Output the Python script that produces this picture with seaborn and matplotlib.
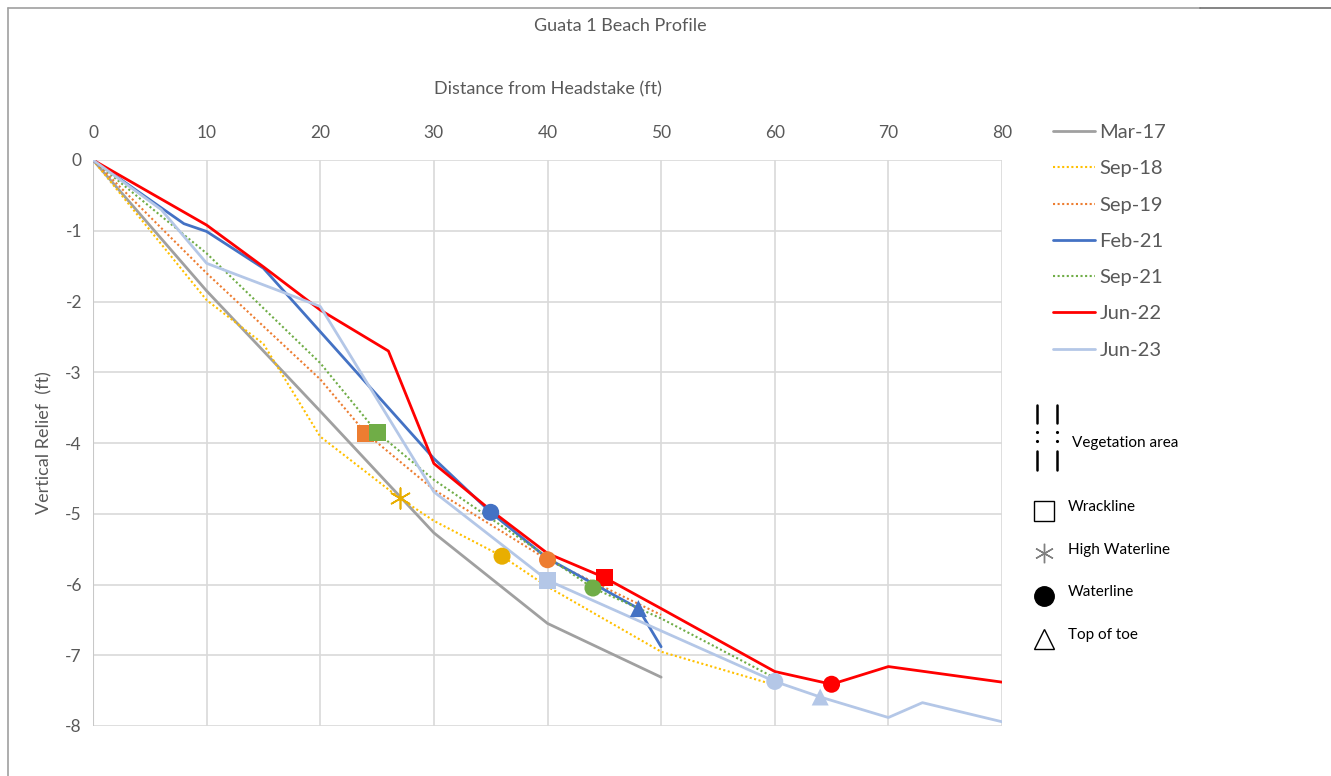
import numpy as np
import pandas as pd
import matplotlib
matplotlib.use('Agg')
import matplotlib.pyplot as plt
from matplotlib.lines import Line2D
import seaborn as sns

# ── 1. Profile data (distance ft, relief ft) ─────────────────
mar17_x = [0, 10, 20, 30, 40, 50]
mar17_y = [0, -1.85, -3.55, -5.27, -6.55, -7.31]

sep18_x = [0, 10, 15, 20, 27, 30, 36, 40, 50, 60]
sep18_y = [0, -1.98, -2.6, -3.91, -4.78, -5.1, -5.6, -6.03, -6.95, -7.42]

sep19_x = [0, 10, 20, 24, 30, 40, 50]
sep19_y = [0, -1.6, -3.1, -3.86, -4.66, -5.65, -6.43]

feb21_x = [0, 8, 10, 15, 30, 35, 40, 48, 50]
feb21_y = [0, -0.9, -1.01, -1.53, -4.22, -4.98, -5.63, -6.34, -6.88]

sep21_x = [0, 10, 20, 25, 30, 44, 50, 60]
sep21_y = [0, -1.32, -2.87, -3.85, -4.52, -6.05, -6.48, -7.32]

jun22_x = [0, 10, 15, 20, 26, 30, 35, 40, 45, 50, 60, 65, 70, 80]
jun22_y = [0, -0.92, -1.51, -2.12, -2.7, -4.29, -4.95, -5.56, -5.9, -6.34,
           -7.23, -7.41, -7.16, -7.38]

jun23_x = [0, 6, 10, 20, 30, 40, 60, 64, 70, 73, 80]
jun23_y = [0, -0.7, -1.46, -2.07, -4.69, -5.94, -7.37, -7.59, -7.88, -7.67, -7.94]

surveys = ['Mar-17', 'Sep-18', 'Sep-19', 'Feb-21', 'Sep-21', 'Jun-22', 'Jun-23']
xs = [mar17_x, sep18_x, sep19_x, feb21_x, sep21_x, jun22_x, jun23_x]
ys = [mar17_y, sep18_y, sep19_y, feb21_y, sep21_y, jun22_y, jun23_y]

colors = {'Mar-17': '#A0A0A0', 'Sep-18': '#FFC000', 'Sep-19': '#ED7D31',
          'Feb-21': '#4472C4', 'Sep-21': '#70AD47', 'Jun-22': '#FF0000',
          'Jun-23': '#B4C7E7'}
marker_colors = dict(colors, **{'Sep-18': '#E8AE00'})
dotted = {'Sep-18', 'Sep-19', 'Sep-21'}

# ── 2. Feature markers ───────────────────────────────────────
wrack_survey = ['Sep-19', 'Sep-21', 'Jun-22', 'Jun-23']
wrack_x = [24, 25, 45, 40]
wrack_y = [-3.86, -3.85, -5.9, -5.94]

highwater_survey = ['Sep-18']
highwater_x = [27]
highwater_y = [-4.78]

water_survey = ['Sep-18', 'Sep-19', 'Feb-21', 'Sep-21', 'Jun-22', 'Jun-23']
water_x = [36, 40, 35, 44, 65, 60]
water_y = [-5.6, -5.65, -4.98, -6.05, -7.41, -7.37]

toe_survey = ['Feb-21', 'Jun-23']
toe_x = [48, 64]
toe_y = [-6.34, -7.59]

df = pd.concat([pd.DataFrame({'survey': s, 'dist': x, 'relief': y})
                for s, x, y in zip(surveys, xs, ys)], ignore_index=True)

# ── 3. Plot ──────────────────────────────────────────────────
sns.set_style('white')
plt.rcParams['font.family'] = ['Lato', 'DejaVu Sans']
plt.rcParams['axes.unicode_minus'] = False
txt = '#595959'

fig = plt.figure(figsize=(13.31, 7.76), dpi=100)
ax = fig.add_axes([93 / 1331, 1 - 726 / 776, 909 / 1331, 566 / 776])

sns.lineplot(data=df, x='dist', y='relief', hue='survey', style='survey',
             palette=colors, hue_order=surveys, style_order=surveys,
             dashes={s: ((1, 1.2) if s in dotted else '') for s in surveys},
             sort=False, estimator=None, ax=ax, legend=False)
for ln, s in zip(ax.get_lines(), surveys):
    ln.set_linewidth(1.5 if s in dotted else 2.0)
    ln.set_zorder(3)

def put(sv, x, y, marker, size):
    sns.scatterplot(x=x, y=y, hue=sv, palette=marker_colors, marker=marker,
                    s=size, linewidth=0, legend=False, ax=ax, zorder=5)

put(wrack_survey, wrack_x, wrack_y, 's', 150)
put(water_survey, water_x, water_y, 'o', 150)
put(toe_survey, toe_x, toe_y, '^', 150)
ax.scatter(highwater_x, highwater_y, marker=(6, 2, 0), s=220,
           color=[marker_colors[s] for s in highwater_survey],
           linewidths=1.2, zorder=5)

ax.set_xlim(0, 80)
ax.set_ylim(-8, 0)
ax.set_xticks(range(0, 81, 10))
ax.set_yticks(range(-8, 1))
ax.xaxis.tick_top()
ax.xaxis.set_label_position('top')
ax.tick_params(axis='x', length=0, labelsize=12.5, labelcolor=txt, pad=14)
ax.tick_params(axis='y', length=0, labelsize=12.5, labelcolor=txt, pad=8)
ax.grid(True, color='#D9D9D9', linewidth=1.2)
for sp in ax.spines.values():
    sp.set_visible(False)
ax.axvline(0, color='#C8C8C8', linewidth=1.5, zorder=1)
ax.set_xlabel('Distance from Headstake (ft)', fontsize=13, color=txt, labelpad=22)
ax.set_ylabel('Vertical Relief  (ft)', fontsize=13, color=txt, labelpad=9)
fig.text(620 / 1331, 1 - 26 / 776, 'Guata 1 Beach Profile', ha='center',
         va='center', fontsize=13, color=txt)

# survey legend
handles = [Line2D([], [], color=colors[s], lw=1.5 if s in dotted else 2.0,
                  linestyle=(0, (1, 1.2)) if s in dotted else '-')
           for s in surveys]
fig.legend(handles, surveys, loc='upper left',
           bbox_to_anchor=(1035 / 1331, 1 - 106 / 776), frameon=False,
           fontsize=14.5, labelcolor=txt, handlelength=2.1, handletextpad=0.2,
           labelspacing=0.95)

# feature key
tf = fig.transFigure
def fx(px):
    return px / 1331
def fy(py):
    return 1 - py / 776

for px in (1037, 1057):
    fig.add_artist(Line2D([fx(px)] * 2, [fy(405), fy(423)], color='black', lw=1.8, transform=tf))
    fig.add_artist(Line2D([fx(px)] * 2, [fy(451), fy(470)], color='black', lw=1.8, transform=tf))
    fig.add_artist(Line2D([fx(px)] * 2, [fy(432), fy(441)], color='black', lw=0,
                          marker='.', markersize=2.5, transform=tf))
fig.text(fx(1072), fy(443), 'Vegetation area', va='center', fontsize=11, color='black')

keys = [('s', 'none', 'black', 'Wrackline', 511, 507),
        ((6, 2, 0), 'none', '#808080', 'High Waterline', 553, 550),
        ('o', 'black', 'black', 'Waterline', 596, 592),
        ('^', 'none', 'black', 'Top of toe', 639, 635)]
for mk, fc, ec, label, my, ty in keys:
    fig.add_artist(Line2D([fx(1044)], [fy(my)], marker=mk, markersize=14,
                          markerfacecolor=fc, markeredgecolor=ec,
                          markeredgewidth=1.0, lw=0, transform=tf))
    fig.text(fx(1068), fy(ty), label, va='center', fontsize=11, color='black')

# outer frame lines
fig.add_artist(Line2D([fx(8), fx(8)], [fy(8), 0], color='#A0A0A0', lw=1.2, transform=tf))
fig.add_artist(Line2D([fx(8), fx(1200)], [fy(8), fy(8)], color='#A0A0A0', lw=1.2, transform=tf))
fig.add_artist(Line2D([fx(1200), 1], [fy(8), fy(8)], color='#707070', lw=1.2, transform=tf))

plt.savefig('out.png', dpi=100)
plt.close()
